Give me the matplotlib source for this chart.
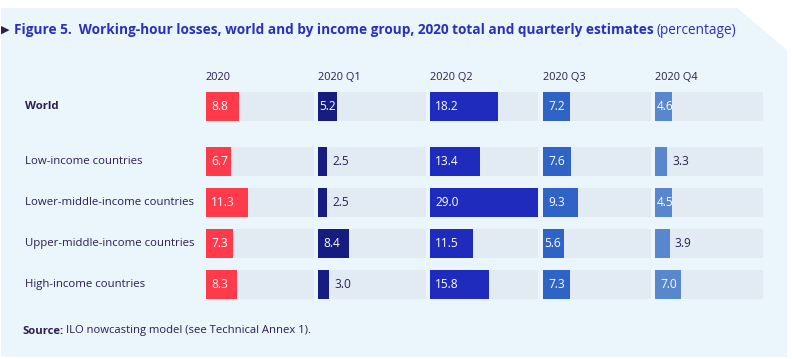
import matplotlib.pyplot as plt
from matplotlib.patches import Polygon

plt.rcParams['font.family'] = ['Open Sans', 'DejaVu Sans']

groups = ['World', 'Low-income countries', 'Lower-middle-income countries',
          'Upper-middle-income countries', 'High-income countries']
periods = ['2020', '2020 Q1', '2020 Q2', '2020 Q3', '2020 Q4']
losses = {
    '2020':    [8.8, 6.7, 11.3, 7.3, 8.3],
    '2020 Q1': [5.2, 2.5, 2.5, 8.4, 3.0],
    '2020 Q2': [18.2, 13.4, 29.0, 11.5, 15.8],
    '2020 Q3': [7.2, 7.6, 9.3, 5.6, 7.3],
    '2020 Q4': [4.6, 3.3, 4.5, 3.9, 7.0],
}
colors = ['#FF3B4B', '#161C80', '#1E2BBD', '#3063C6', '#5987CD']
ypos = [0, 1.34, 2.34, 3.34, 4.34]
xmax = 29.0

W, H = 792, 359
fig = plt.figure(figsize=(W / 100, H / 100), dpi=100)
fig.patch.set_facecolor('white')

# background panel with cut corner
bg = Polygon([(1 / W, 1 - 357 / H), (787 / W, 1 - 357 / H), (787 / W, 1 - 50 / H),
              (737 / W, 1 - 8 / H), (1 / W, 1 - 8 / H)],
             closed=True, transform=fig.transFigure, facecolor='#EAF5FC',
             edgecolor='none', zorder=-10)
fig.patches.append(bg)

dark = '#2C1E52'
fig.text(1 / W, 1 - 30 / H, '\u25B6', fontsize=8, color=dark, va='center', ha='left',
         family='DejaVu Sans')
t1 = fig.text(14 / W, 1 - 30 / H,
              'Figure 5.  Working-hour losses, world and by income group, 2020 total and quarterly estimates',
              fontsize=9.8, fontweight='bold', color='#2A2FBF', va='center', ha='left')
fig.canvas.draw()
bb = t1.get_window_extent(fig.canvas.get_renderer())
fig.text(bb.x1 / W + 3 / W, 1 - 30 / H, '(percentage)', fontsize=9.8,
         color='#2A2FBF', va='center', ha='left')

lefts = [206, 318, 430, 543, 655]
colw = 108
bottom_px, top_px = 299, 92
for i, p in enumerate(periods):
    ax = fig.add_axes([lefts[i] / W, 1 - bottom_px / H, colw / W, (bottom_px - top_px) / H])
    ax.set_xlim(0, xmax)
    ax.set_ylim(ypos[-1] + 0.354, -0.354)
    ax.axis('off')
    ax.barh(ypos, [xmax] * len(ypos), height=0.707, color='#E2EBF3', zorder=1)
    vals = losses[p]
    ax.barh(ypos, vals, height=0.707, color=colors[i], zorder=2)
    px = xmax / colw
    for y, v in zip(ypos, vals):
        if v < 4.0:
            ax.text(v + 5 * px, y, f'{v:.1f}', color=dark, fontsize=8.6,
                    va='center', ha='left', zorder=3)
        else:
            off = 5 if v >= 6.5 else 1.5
            ax.text(off * px, y, f'{v:.1f}', color='white', fontsize=8.6,
                    va='center', ha='left', zorder=3)
    fig.text(lefts[i] / W, 1 - 77 / H, p, fontsize=7.9, color=dark, va='center', ha='left')

rowy = [106.5, 161.5, 202.5, 243.5, 284.5]
for g, y in zip(groups, rowy):
    fig.text(25 / W, 1 - y / H, g, fontsize=8.2, color=dark, va='center', ha='left',
             fontweight='bold' if g == 'World' else 'normal')

s1 = fig.text(22 / W, 1 - 331 / H, 'Source:', fontsize=8.1, fontweight='bold',
              color=dark, va='center', ha='left')
fig.canvas.draw()
bb = s1.get_window_extent(fig.canvas.get_renderer())
fig.text(bb.x1 / W + 3 / W, 1 - 331 / H, 'ILO nowcasting model (see Technical Annex 1).',
         fontsize=8.1, color=dark, va='center', ha='left')

fig.savefig('out.png', dpi=100)
